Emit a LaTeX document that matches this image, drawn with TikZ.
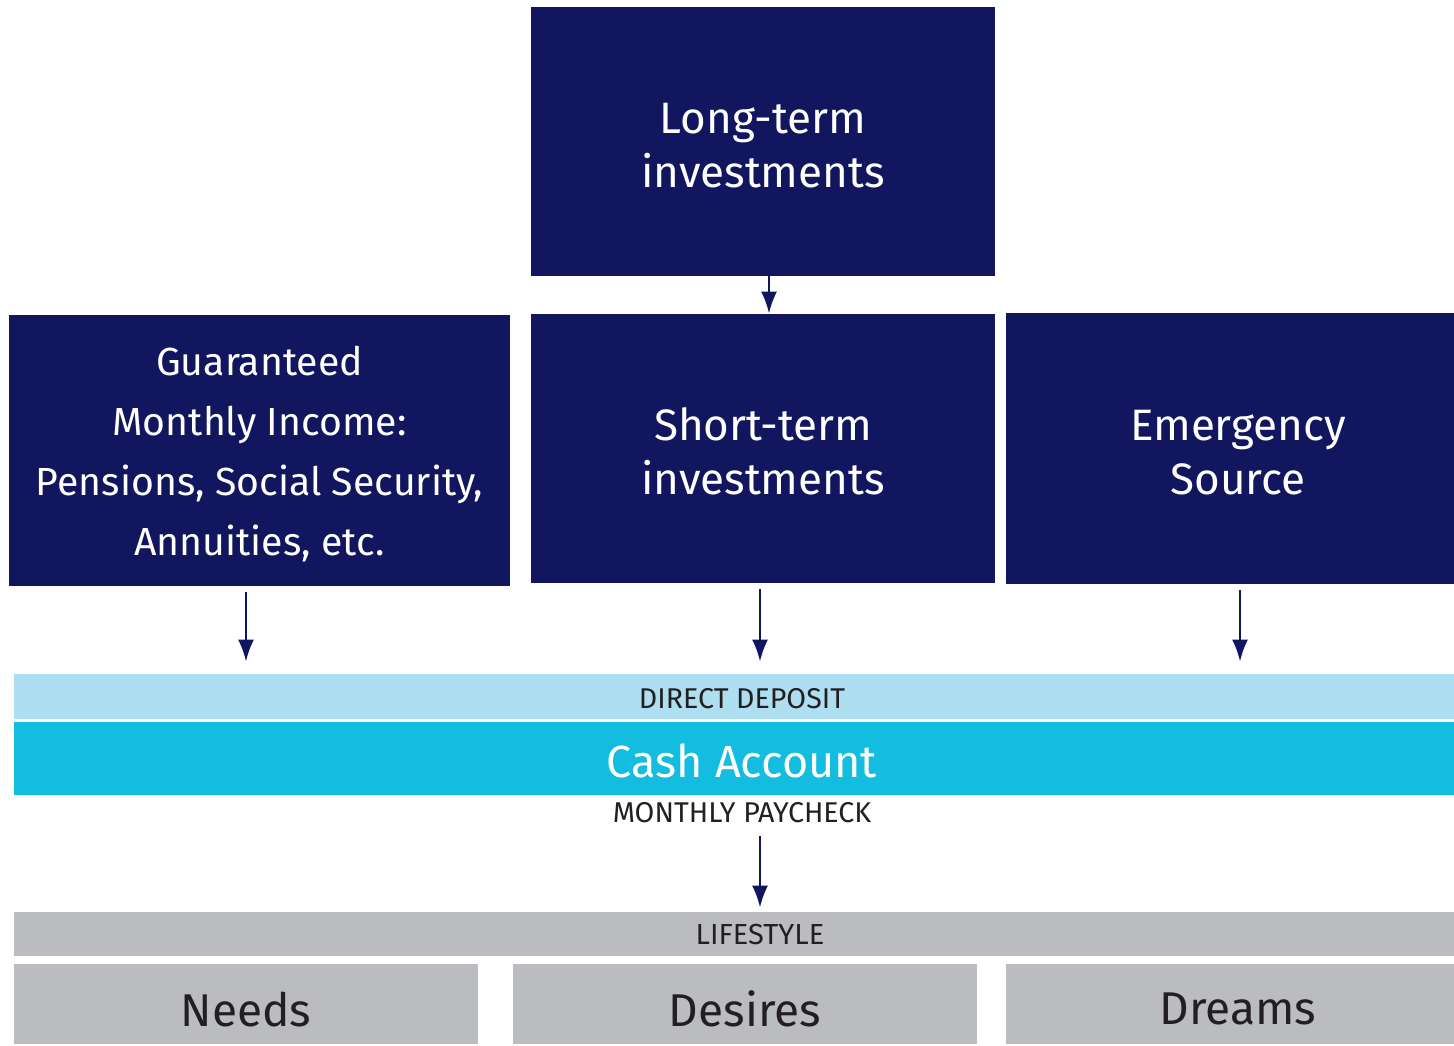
\documentclass[tikz,border=0pt]{standalone}
\usepackage{fontspec}
\setmainfont{Fira Sans}
\usepackage{tikz}
\usetikzlibrary{arrows.meta,positioning}

\definecolor{navy}{HTML}{12165E}
\definecolor{lightblue}{HTML}{ADDFF0}
\definecolor{cashblue}{HTML}{12BDDF}
\definecolor{lgray}{HTML}{BBBCC0}
\definecolor{dtext}{HTML}{231F20}

\newcommand{\lowered}[2]{\raisebox{-#1}[\height][0pt]{#2}}

\tikzset{
  blk/.style={fill=navy, text=white, inner sep=0pt, align=center,
    font=\fontsize{22}{27}\selectfont},
  band/.style={inner sep=0pt, text=dtext, minimum width=720pt, align=center},
  lifebox/.style={fill=lgray, text=dtext, inner sep=0pt, minimum height=40pt,
    font=\fontsize{23}{27}\selectfont},
  arr/.style={-{Latex[length=11pt,width=8pt]}, navy, line width=1.3pt}
}

\begin{document}
\begin{tikzpicture}[x=0.5pt, y=-0.5pt]
  \useasboundingbox (0,0) rectangle (1454,1045);
  % top row
  \node[blk, minimum width=232pt, minimum height=134.5pt] (longterm) at (763,141.5)
    {\rule{0pt}{19pt}Long-term\\investments};
  % middle row
  \node[blk, minimum width=250.5pt, minimum height=135.5pt,
    font=\fontsize{19.6}{30}\selectfont] (guaranteed) at (259.5,450.5)
    {\rule{0pt}{18pt}Guaranteed\\Monthly Income:\\Pensions, Social Security,\\Annuities, etc.};
  \node[blk, minimum width=232pt, minimum height=134.5pt] (shortterm) at (763,448.5)
    {\rule{0pt}{19pt}Short-term\\investments};
  \node[blk, minimum width=224pt, minimum height=135.5pt] (emergency) at (1230,448.5)
    {\rule{0pt}{19pt}\hspace*{8pt}Emergency\\\hspace*{8pt}Source};
  % cash account
  \node[band, fill=lightblue, minimum height=22.5pt,
    font=\fontsize{14.3}{16}\selectfont] (deposit) at (734,696.5)
    {\lowered{1pt}{\hspace*{8pt}DIRECT DEPOSIT}};
  \node[band, fill=cashblue, text=white, minimum height=36.5pt,
    font=\fontsize{22.5}{26}\selectfont] (cash) at (734,758.5)
    {\lowered{1pt}{\hspace*{8pt}Cash Account}};
  \node[inner sep=0pt, text=dtext, font=\fontsize{14.3}{16}\selectfont]
    (paycheck) at (742,813) {MONTHLY PAYCHECK};
  % lifestyle
  \node[band, fill=lgray, minimum height=22pt,
    font=\fontsize{14.5}{16}\selectfont] (lifestyle) at (734,934)
    {\hspace*{26pt}LIFESTYLE};
  \node[lifebox, minimum width=232pt] (needs) at (246,1004) {\lowered{2.5pt}{Needs}};
  \node[lifebox, minimum width=232pt] (desires) at (745,1004) {\lowered{2.5pt}{Desires}};
  \node[lifebox, minimum width=224pt] (dreams) at (1230,1004)
    {\lowered{2.5pt}{\hspace*{8pt}Dreams}};

  \draw[arr] (longterm.south -| 769,0) -- (shortterm.north -| 769,0);
  \draw[arr, shorten <=3pt, shorten >=6pt] (guaranteed.south -| 246,0) -- (deposit.north -| 246,0);
  \draw[arr, shorten <=3pt, shorten >=6pt] (shortterm.south -| 760,0) -- (deposit.north -| 760,0);
  \draw[arr, shorten <=3pt, shorten >=6pt] (emergency.south -| 1240,0) -- (deposit.north -| 1240,0);
  \draw[arr, shorten <=6pt, shorten >=2pt] (paycheck.south -| 760,0) -- (lifestyle.north -| 760,0);
\end{tikzpicture}
\end{document}
